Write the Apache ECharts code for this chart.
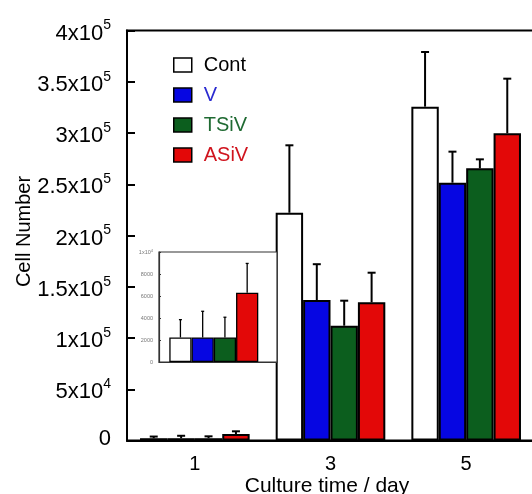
<!DOCTYPE html>
<html><head><meta charset="utf-8">
<script src="https://cdn.jsdelivr.net/npm/echarts@6/dist/echarts.min.js"></script>
<style>html,body{margin:0;padding:0;background:#fff}#c{width:532px;height:494px}</style>
</head><body><div id="c"></div>
<script>
const categories = ['1', '3', '5'];
const seriesNames = ['Cont', 'V', 'TSiV', 'ASiV'];
const contMean = [2230, 222200, 325700];
const contErr = [1620, 65800, 53300];
const vMean = [2230, 137000, 251500];
const vErr = [2380, 35000, 30300];
const tsivMean = [2230, 112000, 265500];
const tsivErr = [1840, 24400, 8800];
const asivMean = [6300, 134800, 299700];
const asivErr = [2660, 28900, 53300];
const yTickLabels = [['0',''],['5x10','4'],['1x10','5'],['1.5x10','5'],['2x10','5'],['2.5x10','5'],['3x10','5'],['3.5x10','5'],['4x10','5']];
const insetTickLabels = [['0',''],['2000',''],['4000',''],['6000',''],['8000',''],['1x10','4']];

const fillColors = ['#ffffff', '#0606e2', '#0c5e1e', '#e30808'];
const textColors = ['#000000', '#2a2ad0', '#1f6a32', '#d0141e'];
const means = [contMean, vMean, tsivMean, asivMean];
const errs = [contErr, vErr, tsivErr, asivErr];
const FONT = 'Liberation Sans, Arial, sans-serif';

const mainGap = 0.192, insetGap = 0.188;

function errRender(si, gapFrac, lw, capW) {
  return function (params, api) {
    const c = api.value(0), m = api.value(1), e = api.value(2);
    const band = api.size([1, 0])[0];
    const group = band * (1 - gapFrac);
    const bw = group / 4;
    const base = api.coord([c, m]);
    const top = api.coord([c, m + e]);
    const x = base[0] - group / 2 + (si + 0.5) * bw;
    return { type: 'group', children: [
      { type: 'line', shape: { x1: x, y1: base[1], x2: x, y2: top[1] }, style: { stroke: '#000', lineWidth: lw } },
      { type: 'line', shape: { x1: x - capW / 2, y1: top[1], x2: x + capW / 2, y2: top[1] }, style: { stroke: '#000', lineWidth: lw } }
    ]};
  };
}

const series = [];
seriesNames.forEach((n, i) => {
  series.push({
    name: n, type: 'bar', xAxisIndex: 0, yAxisIndex: 0,
    data: means[i], barGap: '0%', barCategoryGap: (mainGap * 100) + '%',
    itemStyle: { color: fillColors[i], borderColor: '#000', borderWidth: 2 }, z: 2
  });
});
seriesNames.forEach((n, i) => {
  series.push({
    name: n + ' err', type: 'custom', xAxisIndex: 0, yAxisIndex: 0, z: 3,
    renderItem: errRender(i, mainGap, 2, 8),
    data: categories.map((c, k) => [k, means[i][k], errs[i][k]])
  });
});
seriesNames.forEach((n, i) => {
  series.push({
    name: n, type: 'bar', xAxisIndex: 2, yAxisIndex: 2,
    data: [means[i][0]], barGap: '0%', barCategoryGap: (insetGap * 100) + '%',
    itemStyle: { color: fillColors[i], borderColor: '#000', borderWidth: 1.3 }, z: 12
  });
});
seriesNames.forEach((n, i) => {
  series.push({
    name: n + ' ierr', type: 'custom', xAxisIndex: 2, yAxisIndex: 2, z: 13,
    renderItem: errRender(i, insetGap, 1.3, 3),
    data: [[0, means[i][0], errs[i][0]]]
  });
});

const chart = echarts.init(document.getElementById('c'), null, { renderer: 'canvas' });
chart.setOption({
  animation: false,
  backgroundColor: '#fff',
  textStyle: { fontFamily: FONT },
  legend: {
    data: seriesNames.map((n, i) => ({ name: n, textStyle: { color: textColors[i] } })),
    orient: 'vertical', left: 173, top: 55, padding: 0,
    itemWidth: 18, itemHeight: 14, itemGap: 10, icon: 'rect',
    itemStyle: { borderColor: '#000', borderWidth: 1.5 },
    textStyle: { fontSize: 20, fontFamily: FONT, padding: [0, 0, 0, 7] },
    selectedMode: false
  },
  grid: [
    { left: 127, top: 30.5, width: 407, height: 410, show: true, borderColor: '#000', borderWidth: 2, backgroundColor: 'transparent', containLabel: false, outerBoundsMode: 'none' },
    { left: 159, top: 252, width: 118, height: 110, show: true, borderColor: '#333', borderWidth: 1.2, backgroundColor: '#fff', z: 10, containLabel: false, outerBoundsMode: 'none' },
    { left: 159, top: 252, width: 109.6, height: 110, z: 11, containLabel: false, outerBoundsMode: 'none' }
  ],
  xAxis: [
    { type: 'category', gridIndex: 0, data: categories,
      axisLine: { lineStyle: { color: '#000', width: 2 } }, axisTick: { show: false },
      axisLabel: { fontSize: 20, color: '#000', margin: 14, fontFamily: FONT },
      name: 'Culture time / day', nameLocation: 'middle', nameGap: 35, nameMoveOverlap: false,
      nameTextStyle: { fontSize: 21, color: '#000', fontFamily: FONT, padding: [0, 7, 0, 0] } },
    { type: 'category', gridIndex: 1, data: ['1'], z: 10,
      axisLine: { lineStyle: { color: '#333', width: 1.2 } }, axisTick: { show: false }, axisLabel: { show: false } },
    { type: 'category', gridIndex: 2, data: ['1'], show: false }
  ],
  yAxis: [
    { type: 'value', gridIndex: 0, min: 0, max: 400000, interval: 50000,
      axisLine: { show: true, lineStyle: { color: '#000', width: 2 } },
      axisTick: { show: true, inside: true, length: 8, lineStyle: { color: '#000', width: 2 } },
      splitLine: { show: false },
      axisLabel: {
        margin: 16, color: '#000', fontFamily: FONT,
        formatter: function (v) {
          const t = yTickLabels[Math.round(v / 50000)];
          return t[1] ? '{b|' + t[0] + '}{e|' + t[1] + '}' : '{z|' + t[0] + '}';
        },
        rich: {
          b: { fontSize: 22, fontFamily: FONT, color: '#000', padding: [6, 0, 0, 0], verticalAlign: 'bottom' },
          e: { fontSize: 14, fontFamily: FONT, color: '#000', padding: [2, 0, 0, 0], verticalAlign: 'top' },
          z: { fontSize: 22, fontFamily: FONT, color: '#000', padding: [0, 0, 4, 0] }
        }
      },
      name: 'Cell Number', nameLocation: 'middle', nameGap: 93, nameRotate: 90, nameMoveOverlap: false,
      nameTextStyle: { fontSize: 20, color: '#000', fontFamily: FONT, padding: [0, 0, 0, 8] } },
    { type: 'value', gridIndex: 1, min: 0, max: 10000, interval: 2000, z: 10,
      axisLine: { show: true, lineStyle: { color: '#333', width: 1.2 } },
      axisTick: { show: true, inside: true, length: 2, lineStyle: { color: '#333', width: 1 } },
      splitLine: { show: false },
      axisLabel: {
        margin: 6, color: '#777', fontFamily: FONT,
        formatter: function (v) {
          const t = insetTickLabels[Math.round(v / 2000)];
          return t[1] ? '{b|' + t[0] + '}{e|' + t[1] + '}' : '{b|' + t[0] + '}';
        },
        rich: {
          b: { fontSize: 5.5, fontFamily: FONT, color: '#777' },
          e: { fontSize: 4, fontFamily: FONT, color: '#777', verticalAlign: 'top' }
        }
      } },
    { type: 'value', gridIndex: 2, min: 0, max: 10000, show: false }
  ],
  series: series
});
</script>
</body></html>
